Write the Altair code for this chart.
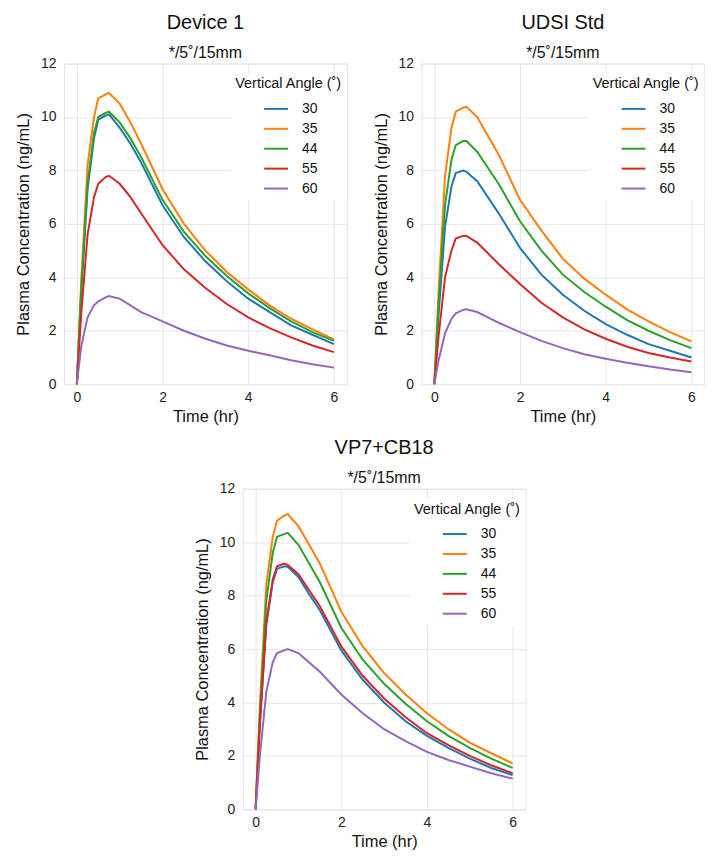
import altair as alt
import pandas as pd

TIME = [0, 0.1, 0.25, 0.4, 0.5, 0.67, 0.75, 1.0, 1.25, 1.5, 2.0, 2.5, 3.0, 3.5, 4.0, 4.5, 5.0, 5.5, 6.0]
ANGLES = ["30", "35", "44", "55", "60"]
COLORS = ["#1f77b4", "#ff7f0e", "#2ca02c", "#d62728", "#9467bd"]

DEVICE1 = {
    "30": [0, 3.4, 7.3, 9.2, 9.9, 10.05, 10.1, 9.6, 9.0, 8.3, 6.7, 5.5, 4.6, 3.85, 3.2, 2.7, 2.2, 1.85, 1.5],
    "35": [0, 3.8, 8.2, 10.0, 10.7, 10.85, 10.9, 10.5, 9.8, 9.0, 7.3, 6.0, 5.0, 4.2, 3.55, 2.95, 2.45, 2.05, 1.68],
    "44": [0, 3.5, 7.5, 9.4, 10.0, 10.15, 10.2, 9.8, 9.2, 8.5, 6.9, 5.7, 4.8, 4.05, 3.4, 2.85, 2.35, 1.95, 1.62],
    "55": [0, 2.6, 5.6, 7.0, 7.5, 7.75, 7.8, 7.5, 7.0, 6.4, 5.2, 4.3, 3.6, 3.0, 2.5, 2.1, 1.75, 1.45, 1.2],
    "60": [0, 1.4, 2.5, 2.95, 3.1, 3.25, 3.3, 3.2, 2.95, 2.7, 2.35, 2.0, 1.7, 1.45, 1.25, 1.08, 0.9, 0.75, 0.62],
}
UDSI = {
    "30": [0, 2.6, 5.9, 7.4, 7.9, 8.0, 7.95, 7.6, 7.0, 6.4, 5.1, 4.1, 3.35, 2.75, 2.25, 1.85, 1.5, 1.25, 1.0],
    "35": [0, 3.5, 7.8, 9.6, 10.2, 10.35, 10.38, 10.0, 9.3, 8.6, 6.9, 5.75, 4.7, 3.95, 3.35, 2.8, 2.35, 1.95, 1.6],
    "44": [0, 3.0, 6.7, 8.4, 8.95, 9.1, 9.1, 8.7, 8.1, 7.5, 6.1, 5.0, 4.1, 3.45, 2.9, 2.4, 2.0, 1.65, 1.35],
    "55": [0, 1.8, 4.0, 5.0, 5.45, 5.55, 5.55, 5.3, 4.9, 4.5, 3.75, 3.05, 2.5, 2.05, 1.7, 1.4, 1.17, 1.0, 0.85],
    "60": [0, 0.9, 1.9, 2.45, 2.65, 2.78, 2.8, 2.7, 2.5, 2.3, 1.95, 1.62, 1.35, 1.12, 0.95, 0.8, 0.67, 0.55, 0.45],
}
VP7 = {
    "30": [0, 3.2, 6.9, 8.5, 9.0, 9.1, 9.08, 8.7, 8.05, 7.45, 5.95, 4.85, 4.0, 3.3, 2.75, 2.3, 1.9, 1.55, 1.28],
    "35": [0, 3.9, 8.4, 10.2, 10.8, 11.0, 11.05, 10.6, 9.9, 9.2, 7.4, 6.1, 5.1, 4.3, 3.6, 3.0, 2.5, 2.1, 1.72],
    "44": [0, 3.6, 7.8, 9.6, 10.2, 10.3, 10.35, 9.9, 9.2, 8.5, 6.8, 5.6, 4.7, 3.95, 3.3, 2.75, 2.3, 1.9, 1.55],
    "55": [0, 3.2, 7.0, 8.6, 9.1, 9.2, 9.15, 8.8, 8.2, 7.6, 6.1, 5.0, 4.15, 3.45, 2.85, 2.4, 2.0, 1.65, 1.35],
    "60": [0, 2.0, 4.4, 5.5, 5.85, 5.95, 6.0, 5.85, 5.5, 5.15, 4.3, 3.6, 3.0, 2.55, 2.15, 1.85, 1.6, 1.35, 1.15],
}

FONT = "Liberation Sans"
W, H = 284, 322


def to_df(series):
    rows = []
    for a in ANGLES:
        for t, v in zip(TIME, series[a]):
            rows.append({"t": t, "c": v, "angle": a})
    return pd.DataFrame(rows)


def panel(series, name):
    return alt.Chart(to_df(series)).mark_line(strokeWidth=2).encode(
        x=alt.X("t:Q", title="Time (hr)",
                scale=alt.Scale(domain=[-0.3, 6.3], nice=False, zero=False),
                axis=alt.Axis(values=[0, 2, 4, 6], format="d")),
        y=alt.Y("c:Q", title="Plasma Concentration (ng/mL)",
                scale=alt.Scale(domain=[0, 12], nice=False),
                axis=alt.Axis(values=[0, 2, 4, 6, 8, 10, 12], format="d")),
        color=alt.Color("angle:N", sort=ANGLES,
                        scale=alt.Scale(domain=ANGLES, range=COLORS),
                        legend=alt.Legend(title="Vertical Angle (˚)", orient="none",
                                          legendX=W - 116, legendY=10,
                                          fillColor="white", padding=4,
                                          symbolType="stroke", symbolSize=576,
                                          symbolStrokeWidth=2, symbolOffset=28,
                                          labelFontSize=14, titleFontSize=14.5,
                                          titleFontWeight="normal", titleColor="#111",
                                          labelColor="#111", rowPadding=0,
                                          titlePadding=4, labelOffset=13)),
    ).properties(
        width=W, height=H,
        title=alt.TitleParams(name, subtitle="*/5˚/15mm", fontSize=20, subtitleFontSize=16,
                              fontWeight="normal", font=FONT, subtitleFont=FONT,
                              color="#111", subtitleColor="#111", anchor="middle",
                              subtitlePadding=12, offset=-7, dy=-3, frame="group"),
    )


a = panel(DEVICE1, "Device 1")
b = panel(UDSI, "UDSI Std")
c = panel(VP7, "VP7+CB18")

top = alt.hconcat(a, b, spacing=24).resolve_scale(color="independent").resolve_legend(color="independent")
chart = alt.vconcat(top, c, spacing=12, center=True).resolve_scale(color="independent").resolve_legend(color="independent")

chart = chart.properties(
    padding={"left": 7, "top": 2, "right": 0, "bottom": 0}
).configure(font=FONT).configure_view(
    stroke="#e2e2e2", strokeWidth=1
).configure_axis(
    grid=True, gridColor="#e6e6e6", gridWidth=1, domain=False, ticks=False,
    labelFontSize=14, labelColor="#222", labelFont=FONT, labelPadding=8,
    titleFontSize=16.5, titleFontWeight="normal", titleColor="#111", titleFont=FONT,
).configure_axisY(titlePadding=9).configure_axisX(labelPadding=6, titlePadding=4)

chart.save("out.html", embed_options={"renderer": "svg", "actions": False})
